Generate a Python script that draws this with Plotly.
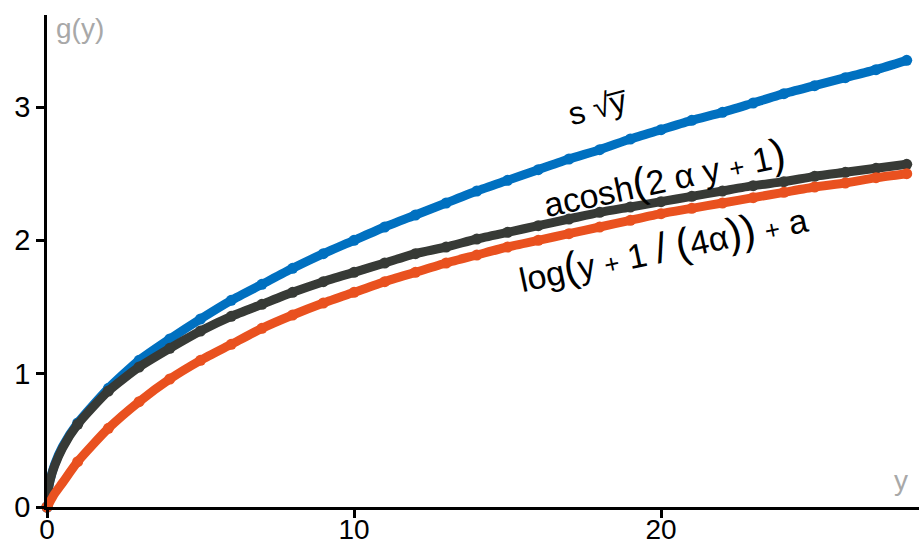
import plotly.graph_objects as go

# Data
# dot positions (integer y)
y_vals = list(range(0, 29))
sqrt_curve = [0.00, 0.63, 0.89, 1.10, 1.26, 1.41, 1.55, 1.67, 1.79, 1.90, 2.00,
              2.10, 2.19, 2.28, 2.37, 2.45, 2.53, 2.61, 2.68, 2.76, 2.83,
              2.90, 2.96, 3.03, 3.10, 3.16, 3.22, 3.28, 3.35]
acosh_curve = [0.00, 0.62, 0.87, 1.05, 1.19, 1.32, 1.43, 1.52, 1.61, 1.69, 1.76,
               1.83, 1.90, 1.95, 2.01, 2.06, 2.11, 2.16, 2.21, 2.25, 2.29,
               2.33, 2.37, 2.41, 2.44, 2.48, 2.51, 2.54, 2.57]
log_curve = [0.00, 0.34, 0.59, 0.79, 0.96, 1.10, 1.22, 1.34, 1.44, 1.53, 1.61,
             1.69, 1.76, 1.83, 1.89, 1.95, 2.00, 2.05, 2.10, 2.15, 2.20,
             2.24, 2.28, 2.32, 2.36, 2.40, 2.43, 2.47, 2.50]

# extra curve readings near the origin (the curves rise steeply there)
near_y = [0.03, 0.1, 0.25, 0.5]
sqrt_near = [0.11, 0.20, 0.32, 0.45]
acosh_near = [0.11, 0.20, 0.31, 0.44]
log_near = [0.01, 0.04, 0.10, 0.18]

x_ticks = [0, 10, 20]
y_ticks = [0, 1, 2, 3]

series = [
    ("s√y", sqrt_curve, sqrt_near, "#0070C0"),
    ("acosh(2αy+1)", acosh_curve, acosh_near, "#373A36"),
    ("log(y+1/(4α))+a", log_curve, log_near, "#E9511F"),
]

fig = go.Figure()
for name, vals, near_vals, col in series:
    lx = [y_vals[0]] + near_y + y_vals[1:]
    ly = [vals[0]] + near_vals + vals[1:]
    fig.add_trace(go.Scatter(
        x=lx, y=ly, mode="lines", name=name,
        line=dict(color=col, width=9, shape="spline", smoothing=0.6),
        cliponaxis=False, showlegend=False, hoverinfo="skip",
    ))
    fig.add_trace(go.Scatter(
        x=y_vals, y=vals, mode="markers", name=name,
        marker=dict(color=col, size=11),
        cliponaxis=False, showlegend=False,
    ))

font_main = "Liberation Sans, Arial, sans-serif"
axis_common = dict(showgrid=False, zeroline=False, automargin=False,
                   showline=True, linecolor="black", linewidth=2.5,
                   ticks="outside", ticklen=8, tickwidth=2.5, tickcolor="black",
                   layer="above traces")
fig.update_layout(
    width=919, height=548,
    margin=dict(l=47, r=0, t=15, b=41),
    paper_bgcolor="white", plot_bgcolor="white",
    font=dict(family=font_main, size=28, color="black"),
    xaxis=dict(range=[0, 28.4], tickvals=x_ticks, ticklabelstandoff=-12,
               tickfont=dict(size=28), **axis_common),
    yaxis=dict(range=[0, 3.69], tickvals=y_ticks, tickfont=dict(size=29), **axis_common),
)

# axis titles (grey, inside the plot)
fig.add_annotation(x=0, y=1, xref="paper", yref="paper", text="g(y)",
                   showarrow=False, xanchor="left", yanchor="top", xshift=7, yshift=4,
                   font=dict(size=28, color="#A8A8A8"))
fig.add_annotation(x=1, y=0, xref="paper", yref="paper", text="y",
                   showarrow=False, xanchor="right", yanchor="bottom", xshift=-9, yshift=9,
                   font=dict(size=28, color="#A8A8A8"))

big = "<span style='font-size:42px'>%s</span>"
sm = "<span style='font-size:26px'>%s</span>"
# curve labels
fig.add_annotation(x=17.95, y=3.0, text="s √y\u0305", showarrow=False, textangle=-15,
                   font=dict(size=32, color="black"))
fig.add_annotation(x=20.1, y=2.47,
                   text="acosh" + big % "(" + "2 α y " + sm % "+" + " 1" + big % ")",
                   showarrow=False, textangle=-12,
                   font=dict(size=34, color="black"))
fig.add_annotation(x=20.05, y=1.95,
                   text="log" + big % "(" + "y " + sm % "+" + " 1 " + big % "/" + " "
                        + big % "(" + "4α" + big % "))" + " " + sm % "+" + " a",
                   showarrow=False, textangle=-12,
                   font=dict(size=34, color="black"))

fig.write_html("out.html")
